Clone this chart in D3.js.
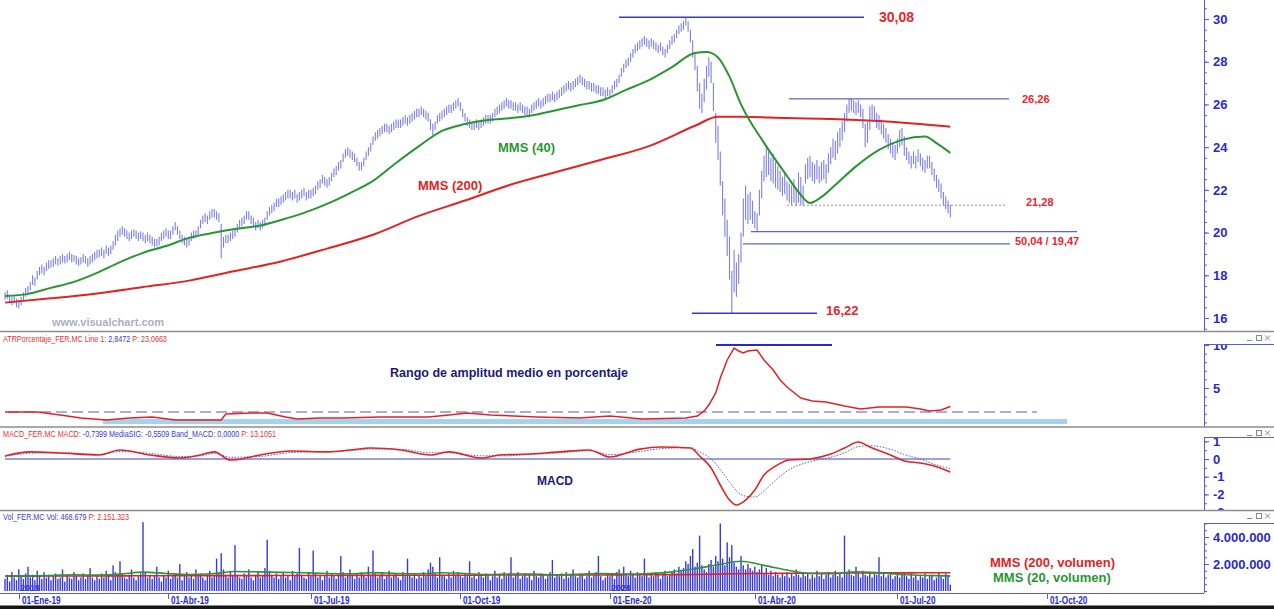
<!DOCTYPE html>
<html>
<head>
<meta charset="utf-8">
<script src="https://cdn.jsdelivr.net/npm/d3@7"></script>
<style>
  body { margin: 0; background: #fff; }
  svg { display: block; }
  text { font-family: "Liberation Sans", Arial, sans-serif; }
</style>
</head>
<body>
<svg id="chart" width="1274" height="609"></svg>
<script>
// ---------------- FER.MC daily bars (index 0 = first bar, Dec 2018) ----------------
const lows = [
  16.85,16.9,16.7,16.6,16.7,16.5,16.45,16.6,16.8,17.0,
  17.1,17.3,17.55,17.5,17.8,18.0,18.1,18.0,18.2,18.3,
  18.35,18.4,18.5,18.45,18.5,18.6,18.55,18.6,18.7,18.6,
  18.65,18.5,18.45,18.5,18.6,18.55,18.4,18.5,18.6,18.7,
  18.8,18.85,18.9,18.8,19.0,18.9,19.0,19.2,19.4,19.6,
  19.8,19.9,19.8,19.7,19.6,19.7,19.8,19.7,19.6,19.7,
  19.6,19.5,19.6,19.5,19.4,19.3,19.35,19.4,19.6,19.7,
  19.8,19.7,19.7,19.9,20.1,19.9,19.7,19.5,19.4,19.3,
  19.4,19.6,19.7,19.75,19.9,20.2,20.4,20.5,20.4,20.6,
  20.7,20.7,20.6,20.5,18.8,19.3,19.5,19.5,19.6,19.7,
  19.8,20.0,20.2,20.3,20.4,20.6,20.6,20.4,20.3,20.1,
  20.2,20.1,20.2,20.3,20.6,20.8,20.9,21.0,21.2,21.2,
  21.3,21.4,21.5,21.6,21.6,21.5,21.6,21.4,21.5,21.6,
  21.7,21.5,21.6,21.6,21.7,21.8,22.0,22.1,22.3,22.2,
  22.1,22.2,22.4,22.6,22.7,22.9,23.0,23.3,23.5,23.6,
  23.5,23.4,23.3,23.1,22.9,22.9,23.1,23.4,23.6,23.8,
  24.1,24.3,24.4,24.5,24.6,24.7,24.7,24.6,24.7,24.8,
  24.9,24.9,24.9,25.0,25.1,25.0,25.1,25.2,25.3,25.4,
  25.4,25.5,25.4,25.3,25.2,24.8,24.55,24.8,25.1,25.2,
  25.3,25.4,25.5,25.6,25.6,25.7,25.8,25.9,25.7,25.4,
  25.2,25.0,24.9,24.8,24.8,24.9,24.8,24.9,25.0,25.1,
  25.1,25.1,25.2,25.4,25.5,25.6,25.7,25.8,25.9,25.8,
  25.8,25.7,25.7,25.6,25.7,25.6,25.5,25.5,25.4,25.6,
  25.7,25.8,25.9,25.8,25.9,26.0,26.1,26.1,26.2,26.1,
  26.2,26.3,26.4,26.5,26.6,26.7,26.6,26.7,26.8,26.9,
  27.0,26.9,26.8,26.7,26.7,26.6,26.6,26.5,26.5,26.4,
  26.4,26.3,26.4,26.3,26.5,26.7,26.8,27.0,27.3,27.5,
  27.7,27.8,28.0,28.2,28.4,28.5,28.6,28.7,28.8,28.7,
  28.6,28.7,28.6,28.5,28.4,28.5,28.3,28.2,28.4,28.6,
  28.8,28.9,29.1,29.3,29.4,29.5,29.7,29.4,28.9,28.2,
  27.6,26.6,25.8,25.6,26.1,26.7,27.3,27.0,25.7,24.2,
  23.4,22.2,20.8,19.8,18.9,17.8,16.22,17.2,17.0,17.6,
  18.6,19.8,20.6,20.4,20.6,20.4,20.2,20.04,20.8,21.6,
  22.4,22.6,22.7,22.4,22.3,22.1,22.0,21.9,21.7,21.8,
  21.5,21.4,21.3,21.4,21.28,21.4,21.3,21.28,22.3,22.5,
  22.6,22.4,22.3,22.5,22.3,22.4,22.5,22.3,22.8,23.2,
  23.5,23.4,23.7,24.0,24.3,24.7,25.2,25.6,25.7,25.6,
  25.5,25.6,25.4,24.9,24.0,24.2,24.8,25.3,25.2,24.9,
  24.8,24.6,24.4,24.2,23.9,23.7,23.5,23.4,23.7,24.0,
  24.1,23.6,23.4,23.2,23.0,23.2,23.0,23.3,23.1,22.9,
  22.8,23.0,23.0,22.7,22.4,22.1,21.9,21.6,21.3,21.1,
  20.9,20.7
];
const highs = [
  17.2,17.3,17.1,17.0,17.05,16.9,16.85,17.0,17.2,17.4,
  17.5,17.7,18.0,17.9,18.2,18.4,18.5,18.4,18.6,18.7,
  18.7,18.8,18.9,18.8,18.9,19.0,18.9,19.0,19.1,19.0,
  18.95,18.9,18.8,18.85,19.0,18.9,18.8,18.9,19.0,19.1,
  19.2,19.2,19.3,19.2,19.4,19.3,19.4,19.6,19.9,20.1,
  20.2,20.3,20.2,20.1,20.0,20.1,20.15,20.1,20.0,20.05,
  20.0,19.9,20.0,19.9,19.8,19.7,19.7,19.8,20.0,20.1,
  20.2,20.1,20.1,20.3,20.5,20.3,20.1,19.9,19.8,19.7,
  19.8,20.0,20.1,20.1,20.3,20.6,20.8,20.9,20.8,21.0,
  21.1,21.1,21.0,20.9,20.4,19.8,19.9,19.9,20.0,20.1,
  20.2,20.4,20.6,20.7,20.8,21.0,21.0,20.8,20.7,20.5,
  20.6,20.5,20.6,20.7,21.0,21.2,21.3,21.4,21.6,21.6,
  21.7,21.8,21.9,22.0,22.0,21.9,22.0,21.8,21.9,22.0,
  22.1,21.9,22.0,22.0,22.1,22.2,22.4,22.5,22.7,22.6,
  22.5,22.6,22.8,23.0,23.1,23.3,23.4,23.7,23.9,24.0,
  23.9,23.8,23.7,23.5,23.3,23.3,23.5,23.8,24.0,24.2,
  24.5,24.7,24.8,24.9,25.0,25.1,25.1,25.0,25.1,25.2,
  25.3,25.3,25.3,25.4,25.5,25.4,25.5,25.6,25.7,25.8,
  25.8,25.9,25.8,25.7,25.6,25.3,25.1,25.2,25.5,25.6,
  25.7,25.8,25.9,26.0,26.0,26.1,26.2,26.3,26.1,25.8,
  25.6,25.4,25.3,25.2,25.2,25.3,25.2,25.3,25.4,25.5,
  25.5,25.5,25.6,25.8,25.9,26.0,26.1,26.2,26.3,26.2,
  26.2,26.1,26.1,26.0,26.1,26.0,25.9,25.9,25.8,26.0,
  26.1,26.2,26.3,26.2,26.3,26.4,26.5,26.5,26.6,26.5,
  26.6,26.7,26.8,26.9,27.0,27.1,27.0,27.1,27.2,27.3,
  27.4,27.3,27.2,27.1,27.1,27.0,27.0,26.9,26.9,26.8,
  26.8,26.7,26.8,26.7,26.9,27.1,27.2,27.4,27.7,27.9,
  28.1,28.2,28.4,28.6,28.8,28.9,29.0,29.1,29.2,29.1,
  29.0,29.1,29.0,28.9,28.8,28.9,28.7,28.6,28.8,29.0,
  29.2,29.3,29.5,29.7,29.8,29.9,30.08,29.9,29.5,29.0,
  28.4,27.8,27.0,26.5,27.2,27.8,28.2,28.0,27.0,25.6,
  25.0,23.8,22.4,21.6,20.6,19.8,18.2,19.2,18.6,19.0,
  20.0,21.6,22.2,21.8,21.9,21.5,21.0,20.9,22.0,22.9,
  23.6,24.0,23.8,23.5,23.7,23.3,23.1,22.9,22.6,22.8,
  22.4,22.3,22.2,22.5,22.0,22.8,22.6,22.2,23.2,23.5,
  23.6,23.3,23.2,23.4,23.1,23.3,23.4,23.2,23.7,24.0,
  24.4,24.3,24.7,24.9,25.2,25.6,26.0,26.26,26.26,26.2,
  26.1,26.2,26.0,25.8,25.1,25.2,25.9,26.0,25.9,25.6,
  25.5,25.3,25.1,24.9,24.6,24.4,24.2,24.1,24.4,24.8,
  24.9,24.5,24.0,23.8,23.6,23.8,23.6,23.9,23.7,23.5,
  23.4,23.6,23.6,23.3,23.0,22.7,22.5,22.3,21.9,21.7,
  21.5,21.3
];

// Daily volume, millions of shares
const volumes = [
  0.9,1.2,0.7,1.4,1.0,0.8,1.6,1.1,0.9,1.3,1.8,1.0,1.2,0.8,1.5,1.1,0.9,1.4,1.0,1.2,
  0.8,1.1,1.3,0.9,1.0,1.6,0.7,1.2,1.0,0.9,1.4,1.1,0.8,1.0,1.3,0.9,1.2,1.7,1.0,0.8,
  1.1,0.9,1.3,1.0,1.5,1.2,0.8,1.9,1.4,1.1,2.2,1.3,1.0,0.9,1.2,1.6,1.0,0.8,1.1,1.3,
  5.1,1.4,1.0,1.2,0.9,1.1,1.8,1.0,0.7,1.2,1.0,1.5,0.9,1.1,1.3,1.0,2.0,0.8,1.1,1.4,
  1.0,1.2,0.9,1.6,1.1,1.3,1.0,0.8,1.2,1.5,1.0,1.1,2.4,1.3,2.8,1.6,1.2,1.0,1.4,1.1,
  3.4,1.2,1.0,0.9,1.3,1.1,1.6,1.0,0.8,1.2,1.4,1.0,1.1,1.7,3.8,1.5,1.2,1.0,1.3,0.9,
  1.1,1.4,1.0,1.2,0.8,1.5,1.1,1.3,3.2,1.2,1.0,0.9,1.4,1.1,3.0,1.3,1.0,1.2,0.8,1.1,
  1.5,1.0,1.3,1.1,0.9,1.2,2.6,1.4,1.0,1.2,1.6,1.1,0.9,1.3,1.0,1.4,1.2,1.0,1.8,1.1,
  3.0,1.3,1.0,1.2,1.4,0.9,1.1,1.5,1.0,1.2,1.3,1.0,0.8,1.4,1.1,2.4,1.2,1.0,1.3,0.9,
  1.2,1.0,1.4,1.1,1.6,2.1,1.8,1.3,1.0,2.5,1.2,1.1,0.9,1.3,1.0,1.5,1.2,1.4,1.1,1.0,
  1.3,1.1,2.2,1.0,1.2,0.9,1.4,1.1,1.0,1.3,1.2,0.8,1.1,1.5,1.0,1.2,0.9,1.4,1.1,1.3,
  2.5,1.0,1.2,1.4,0.9,1.1,1.3,1.0,1.2,0.8,1.5,1.1,1.0,1.3,1.2,0.9,1.1,1.4,2.3,1.0,
  1.2,1.1,1.3,0.9,1.4,1.0,1.2,1.6,1.1,1.0,1.3,1.2,0.9,1.1,1.5,1.0,1.2,1.4,2.6,1.1,
  0.8,1.0,1.3,1.1,1.2,0.9,1.4,1.6,1.2,1.8,1.3,1.1,1.5,1.2,1.0,1.4,1.3,1.1,2.4,1.2,
  1.0,1.3,1.1,1.4,1.2,0.9,1.3,1.5,1.1,1.2,1.4,1.6,1.3,1.8,1.5,1.7,2.2,2.0,2.6,3.1,
  1.8,2.1,4.1,1.9,1.6,1.4,2.0,2.3,1.8,2.6,2.2,5.0,2.4,1.9,3.6,2.5,3.4,2.1,1.8,1.6,
  2.6,1.9,1.6,2.0,1.7,1.5,1.8,1.4,1.6,1.9,1.3,1.7,1.2,1.5,1.1,1.4,1.2,1.0,1.3,1.1,
  1.4,1.0,1.3,1.1,1.6,1.2,1.0,1.4,1.1,1.3,0.9,1.2,1.0,1.5,1.1,1.3,0.9,1.2,1.4,1.0,
  1.2,1.5,1.1,1.3,1.0,4.1,1.4,1.6,1.2,1.1,1.8,1.3,1.0,1.5,1.2,1.1,1.4,1.0,1.3,1.2,
  2.5,1.1,1.3,1.0,1.2,1.4,0.9,1.1,1.3,1.0,1.2,1.4,1.1,0.9,1.3,1.0,1.2,0.8,1.1,1.0,
  1.3,0.9,1.1,1.2,0.8,1.0,1.4,1.1,0.9,1.3,1.2,0.468679
];

// Moving averages of price (bar index, value)
const mms40Idx = [0,10,20,30,40,50,60,70,80,90,100,110,120,130,140,150,160,170,180,190,200,210,220,230,240,250,260,270,280,290,300,305,310,315,320,330,340,345,350,355,360,370,380,390,400,405,411];
const mms40 = [17.03,17.13,17.41,17.69,18.11,18.62,19.05,19.37,19.75,19.98,20.17,20.31,20.59,20.92,21.34,21.85,22.42,23.26,24.05,24.76,25.08,25.27,25.36,25.51,25.74,25.97,26.21,26.68,27.14,27.75,28.41,28.45,28.2,27.3,26.0,24.2,22.65,21.9,21.39,21.67,22.13,23.1,23.87,24.34,24.50,24.19,23.73];
const mms200Idx = [0,20,40,60,80,100,120,140,160,180,200,220,240,260,280,300,310,320,340,360,380,400,411];
const mms200 = [16.72,16.92,17.15,17.45,17.75,18.2,18.65,19.25,19.9,20.78,21.5,22.25,22.85,23.43,24.05,25.0,25.42,25.42,25.36,25.32,25.22,25.06,24.96];

// ATR in percent
const atrIdx = [0,4,14,24,33,44,54,64,74,85,94,96,107,114,122,127,137,147,163,184,193,201,211,231,250,263,277,296,301,304,306,309,311,314,317,319,321,323,327,330,334,337,340,346,351,357,365,372,376,380,392,398,402,407,411];
const atr = [2.2,2.2,2.2,1.86,1.51,1.28,1.51,1.63,1.28,1.28,1.28,1.98,2.09,2.09,1.63,1.40,1.51,1.51,1.63,1.63,1.86,2.09,1.86,1.63,1.51,1.74,1.40,1.51,1.74,2.33,3.02,4.42,6.16,8.26,9.65,9.30,9.07,9.30,9.42,8.26,7.09,5.93,5.12,3.84,3.49,3.37,2.91,2.56,2.67,2.79,2.79,2.56,2.33,2.44,2.8472];
const atrAvg = 2.2;
const atrPeak = 10;

// MACD and signal
const macdIdx = [0,11,24,41,50,63,76,85,91,98,111,124,141,150,159,172,185,193,207,215,228,241,254,263,276,285,298,302,307,311,315,318,322,326,330,335,341,350,359,365,371,376,385,391,398,404,411];
const macd = [0.17,0.40,0.34,0.23,0.51,0.23,0.06,0.23,0.40,-0.06,0.23,0.45,0.40,0.51,0.62,0.51,0.23,0.40,0.06,0.23,0.28,0.40,0.51,0.11,0.56,0.68,0.62,0.17,-0.51,-1.47,-2.32,-2.60,-2.32,-1.75,-0.90,-0.40,-0.06,0.0,0.28,0.62,0.96,0.68,0.23,-0.11,-0.23,-0.40,-0.7399];
const macdSig = [0.15,0.32,0.36,0.27,0.42,0.32,0.14,0.18,0.32,0.10,0.15,0.36,0.42,0.47,0.56,0.55,0.35,0.35,0.18,0.18,0.25,0.35,0.46,0.25,0.42,0.58,0.64,0.40,0.0,-0.6,-1.3,-1.8,-2.1,-2.15,-1.8,-1.2,-0.6,-0.15,0.1,0.35,0.7,0.75,0.55,0.25,0.0,-0.3,-0.5509];

// Volume moving averages (millions)
const volMaIdx = [0,10,20,30,40,50,60,70,80,90,100,110,120,130,140,150,160,170,180,190,200,210,220,230,240,250,260,270,280,290,300,310,320,330,340,350,360,370,380,390,400,410,411];
const volMa200 = [1.10,1.10,1.11,1.11,1.12,1.12,1.13,1.13,1.13,1.14,1.14,1.14,1.15,1.15,1.15,1.16,1.16,1.16,1.17,1.17,1.17,1.18,1.18,1.18,1.19,1.19,1.19,1.20,1.20,1.21,1.22,1.25,1.28,1.30,1.31,1.32,1.33,1.33,1.34,1.34,1.35,1.35,1.35];
const volMa20 = [1.10,1.12,1.15,1.20,1.18,1.25,1.40,1.30,1.22,1.28,1.45,1.42,1.38,1.35,1.30,1.28,1.36,1.30,1.28,1.35,1.30,1.22,1.26,1.25,1.20,1.24,1.30,1.26,1.30,1.42,1.65,1.95,2.2,1.9,1.55,1.30,1.28,1.42,1.35,1.22,1.15,1.12,1.10];

// Price levels marked on the chart
const levelValues = [30.08, 26.26, 21.28, 20.04, 19.47, 16.22];
const levelLabels = ["30,08", "26,26", "21,28", "", "50,04 / 19,47", "16,22"];

// Date axis: bar index of the first session of each quarter
const quarterIdx = [6, 71, 133, 198, 263, 326, 388, 453];
const quarterLabels = ["01-Ene-19","01-Abr-19","01-Jul-19","01-Oct-19","01-Ene-20","01-Abr-20","01-Jul-20","01-Oct-20"];

const priceTicks = [16, 18, 20, 22, 24, 26, 28, 30];
const atrTicks = [5, 10];
const macdTicks = [-3, -2, -1, 0, 1];
const volTicks = [2, 4];

// ---------------- drawing ----------------
const W = 1274, H = 609, AX = 1204;
const svg = d3.select("#chart");
const es = d3.formatLocale({decimal: ",", thousands: ".", grouping: [3], currency: ["", ""], minus: "-"});
const fmt4 = es.format(".4f"), fmtInt = es.format(",d");

const axisColor = "#5a5ad6", labelColor = "#2a2acc";
const red = "#e02424", green = "#2a9632", barColor = "#7e7ee8";

const x = d3.scaleLinear().domain([0, 411]).range([5, 950.3]);
const yP = d3.scaleLinear().domain([16, 30]).range([318, 19]);
const yA = d3.scaleLinear().domain([0, 10]).range([431, 345]);
const yM = d3.scaleLinear().domain([0, 1]).range([459, 441.3]);
const yV = d3.scaleLinear().domain([0, 4]).range([591, 537]);

svg.append("rect").attr("width", W).attr("height", H).attr("fill", "#fff");

const defs = svg.append("defs");
function clipRect(id, x0, y0, x1, y1) {
  defs.append("clipPath").attr("id", id).append("rect")
    .attr("x", x0).attr("y", y0).attr("width", x1 - x0).attr("height", y1 - y0);
}
clipRect("cMain", 0, 0, AX, 331);
clipRect("cAtr", 0, 333, AX, 427);
clipRect("cMacd", 0, 428, AX, 510);
clipRect("cVol", 0, 511, AX, 593);
clipRect("aMain", AX, 0, W, 331);
clipRect("aAtr", AX, 344, W, 427);
clipRect("aMacd", AX, 437, W, 510);
clipRect("aVol", AX, 523, W, 593);

const zip = (a, b) => a.map((v, i) => [v, b[i]]);

// ---- main price panel ----
const gMain = svg.append("g").attr("clip-path", "url(#cMain)");

gMain.append("text").attr("x", 52).attr("y", 326)
  .attr("font-size", 11).attr("font-weight", "bold").attr("fill", "#a9b0c9")
  .text("www.visualchart.com");

gMain.selectAll("line.bar").data(highs).join("line").attr("class", "bar")
  .attr("x1", (d, i) => x(i)).attr("x2", (d, i) => x(i))
  .attr("y1", d => yP(d)).attr("y2", (d, i) => yP(lows[i]))
  .attr("stroke", barColor).attr("stroke-width", 1.1);

const lineP = d3.line().x(d => x(d[0])).y(d => yP(d[1])).curve(d3.curveMonotoneX);
gMain.append("path").attr("d", lineP(zip(mms200Idx, mms200)))
  .attr("fill", "none").attr("stroke", red).attr("stroke-width", 2);
gMain.append("path").attr("d", lineP(zip(mms40Idx, mms40)))
  .attr("fill", "none").attr("stroke", green).attr("stroke-width", 2);

gMain.append("text").attr("x", 498).attr("y", 152).attr("font-size", 13)
  .attr("font-weight", "bold").attr("fill", green).text("MMS (40)");
gMain.append("text").attr("x", 418).attr("y", 190).attr("font-size", 13)
  .attr("font-weight", "bold").attr("fill", red).text("MMS (200)");

// level lines: [x-start, x-end, stroke width, dashed]
const levelStyle = [
  [619, 864, 1.5, false], [789, 1009, 1, false], [787, 1005, 1, true],
  [751, 1077, 1, false], [743, 1010, 1, false], [692, 817, 1.5, false]
];
const levelText = [[879, 22, 14], [1022, 103, 11], [1026, 206, 11], null, [1015, 245, 11], [826, 315, 13]];
levelValues.forEach((v, i) => {
  const s = levelStyle[i];
  gMain.append("line").attr("x1", s[0]).attr("x2", s[1])
    .attr("y1", yP(v)).attr("y2", yP(v))
    .attr("stroke", s[3] ? "#8a8ae8" : "#3a3ac8").attr("stroke-width", s[2])
    .attr("stroke-dasharray", s[3] ? "2,2" : null);
  const t = levelText[i];
  if (t && levelLabels[i]) {
    gMain.append("text").attr("x", t[0]).attr("y", t[1]).attr("font-size", t[2])
      .attr("font-weight", "bold").attr("fill", "#e8262c").text(levelLabels[i]);
  }
});

// ---- ATR panel ----
const gAtr = svg.append("g").attr("clip-path", "url(#cAtr)");
gAtr.append("rect").attr("x", 103).attr("width", 964)
  .attr("y", yA(1.1) - 2.5).attr("height", 5).attr("fill", "#a6d2f2");
gAtr.append("line").attr("x1", 8).attr("x2", 1037)
  .attr("y1", yA(atrAvg)).attr("y2", yA(atrAvg))
  .attr("stroke", "#8e8ee2").attr("stroke-width", 1.5).attr("stroke-dasharray", "11,5");
gAtr.append("path")
  .attr("d", d3.line().x(d => x(d[0])).y(d => yA(d[1]))(zip(atrIdx, atr)))
  .attr("fill", "none").attr("stroke", red).attr("stroke-width", 1.5);
gAtr.append("line").attr("x1", 716).attr("x2", 832)
  .attr("y1", yA(atrPeak)).attr("y2", yA(atrPeak))
  .attr("stroke", "#2a2ac0").attr("stroke-width", 2);
gAtr.append("text").attr("x", 390).attr("y", 377).attr("font-size", 13)
  .attr("font-weight", "bold").attr("fill", "#1c1c72")
  .attr("textLength", 238).attr("lengthAdjust", "spacingAndGlyphs")
  .text("Rango de amplitud medio en porcentaje");

// ---- MACD panel ----
const gMacd = svg.append("g").attr("clip-path", "url(#cMacd)");
gMacd.append("line").attr("x1", x(0)).attr("x2", x(411))
  .attr("y1", yM(0)).attr("y2", yM(0)).attr("stroke", "#4040b8").attr("stroke-width", 1);
const lineM = d3.line().x(d => x(d[0])).y(d => yM(d[1])).curve(d3.curveMonotoneX);
gMacd.append("path").attr("d", lineM(zip(macdIdx, macdSig)))
  .attr("fill", "none").attr("stroke", "#4a64e0").attr("stroke-width", 1).attr("stroke-dasharray", "1.5,1.5");
gMacd.append("path").attr("d", lineM(zip(macdIdx, macd)))
  .attr("fill", "none").attr("stroke", red).attr("stroke-width", 1.6);
gMacd.append("text").attr("x", 537).attr("y", 485).attr("font-size", 12)
  .attr("font-weight", "bold").attr("fill", "#1c1c72").text("MACD");

// ---- Volume panel ----
const gVol = svg.append("g").attr("clip-path", "url(#cVol)");
gVol.append("text").attr("x", 20).attr("y", 591).attr("font-size", 9)
  .attr("font-weight", "bold").attr("fill", "#2a2acc").text("2019");
gVol.append("text").attr("x", 611).attr("y", 591).attr("font-size", 9)
  .attr("font-weight", "bold").attr("fill", "#2a2acc").text("2020");
gVol.selectAll("rect.vb").data(volumes).join("rect").attr("class", "vb")
  .attr("x", (d, i) => x(i) - 0.7).attr("width", 1.4)
  .attr("y", d => yV(d)).attr("height", d => yV(0) - yV(d))
  .attr("fill", "#3a3ad8");
const lineV = d3.line().x(d => x(d[0])).y(d => yV(d[1])).curve(d3.curveMonotoneX);
gVol.append("path").attr("d", lineV(zip(volMaIdx, volMa200)))
  .attr("fill", "none").attr("stroke", red).attr("stroke-width", 1.6);
gVol.append("path").attr("d", lineV(zip(volMaIdx, volMa20)))
  .attr("fill", "none").attr("stroke", green).attr("stroke-width", 1.6);
gVol.append("text").attr("x", 990).attr("y", 567).attr("font-size", 13)
  .attr("font-weight", "bold").attr("fill", red).text("MMS (200, volumen)");
gVol.append("text").attr("x", 993).attr("y", 582).attr("font-size", 13)
  .attr("font-weight", "bold").attr("fill", green).text("MMS (20, volumen)");

// ---- right axes ----
function rightAxis(scale, majors, minorStep, fmt, y0, y1, clipId, fontSize, topLine) {
  const wrap = svg.append("g").attr("clip-path", `url(#${clipId})`);
  const g = wrap.append("g").attr("transform", `translate(${AX},0)`);
  const dom = scale.domain();
  const lo = Math.min(dom[0], scale.invert(y1)), hi = Math.max(dom[1], scale.invert(y0));
  const minors = d3.range(Math.ceil(lo / minorStep) * minorStep, hi + 1e-9, minorStep);
  const gm = g.append("g").call(d3.axisRight(scale).tickValues(minors).tickSize(3).tickFormat(""));
  const gM = g.append("g").call(d3.axisRight(scale).tickValues(majors).tickSize(5).tickPadding(4).tickFormat(fmt));
  [gm, gM].forEach(a => { a.select(".domain").remove(); a.selectAll("line").attr("stroke", axisColor); });
  gM.selectAll("text").attr("fill", labelColor).attr("font-size", fontSize)
    .attr("font-weight", "bold").attr("font-family", "Liberation Sans, Arial, sans-serif");
  svg.append("line").attr("x1", AX + 0.5).attr("x2", AX + 0.5).attr("y1", y0).attr("y2", y1)
    .attr("stroke", axisColor).attr("stroke-width", 1);
  if (topLine) {
    svg.append("line").attr("x1", AX).attr("x2", W).attr("y1", y0 + 0.5).attr("y2", y0 + 0.5)
      .attr("stroke", axisColor).attr("stroke-width", 1);
  }
}
const plain = d => String(d);
rightAxis(yP, priceTicks, 0.5, plain, 0, 331, "aMain", 13, false);
rightAxis(yA, atrTicks, 1, plain, 344, 427, "aAtr", 13, true);
rightAxis(yM, macdTicks, 0.5, plain, 437, 510, "aMacd", 13, true);
rightAxis(yV, volTicks, 0.5, v => fmtInt(v * 1e6), 523, 593, "aVol", 13, true);

// ---- panel separators, headers and window buttons ----
[331.5, 427, 510.5].forEach(y => {
  svg.append("line").attr("x1", 0).attr("x2", W).attr("y1", y).attr("y2", y)
    .attr("stroke", "#8d8d8d").attr("stroke-width", 1.5);
});

// Each header is a single text line, squeezed horizontally like the terminal's narrow font
function header(y, parts, sx) {
  const t = svg.append("text").attr("transform", `translate(3,${y}) scale(${sx},1)`)
    .attr("font-size", 9);
  parts.forEach(p => t.append("tspan").attr("fill", p[1]).text(p[0]));
}
const hRed = "#e23434", hBlue = "#3a3ad0";
header(342, [["ATRPorcentaje_FER.MC Line 1: ", hRed], [fmt4(atr[atr.length - 1]), hBlue], [" P: 23,0663", hRed]], 0.8);
header(437, [["MACD_FER.MC MACD: ", hRed],
  [`${fmt4(macd[macd.length - 1])} MediaSIG: ${fmt4(macdSig[macdSig.length - 1])} Band_MACD: ${fmt4(0)}`, hBlue],
  [" P: 13,1051", hRed]], 0.8);
header(520, [[`Vol_FER.MC Vol: ${fmtInt(Math.round(volumes[volumes.length - 1] * 1e6))}`, hBlue], [" P: 2.151.323", hRed]], 0.8);

[338, 433, 516].forEach(y => {
  const g = svg.append("g").attr("stroke", "#8a8a8a").attr("fill", "none").attr("stroke-width", 1);
  g.append("line").attr("x1", 1247).attr("x2", 1252).attr("y1", y + 2.5).attr("y2", y + 2.5);
  g.append("rect").attr("x", 1256.5).attr("y", y - 2.5).attr("width", 5).attr("height", 5);
  g.append("line").attr("x1", 1265).attr("x2", 1270).attr("y1", y - 2.5).attr("y2", y + 2.5);
  g.append("line").attr("x1", 1265).attr("x2", 1270).attr("y1", y + 2.5).attr("y2", y - 2.5);
});

// ---- date axis ----
svg.append("line").attr("x1", 0).attr("x2", AX).attr("y1", 593.5).attr("y2", 593.5)
  .attr("stroke", axisColor).attr("stroke-width", 1);
quarterIdx.forEach((q, i) => {
  const xp = Math.round(x(q)) + 0.5;
  svg.append("line").attr("x1", xp).attr("x2", xp).attr("y1", 593).attr("y2", 599)
    .attr("stroke", axisColor);
  svg.append("text").attr("transform", `translate(${xp + 2.5},604) scale(0.82,1)`)
    .attr("font-size", 10).attr("font-weight", "bold").attr("fill", labelColor)
    .text(quarterLabels[i]);
});

svg.append("rect").attr("x", 0).attr("y", 605.5).attr("width", W).attr("height", 4).attr("fill", "#151515");
</script>
</body>
</html>
